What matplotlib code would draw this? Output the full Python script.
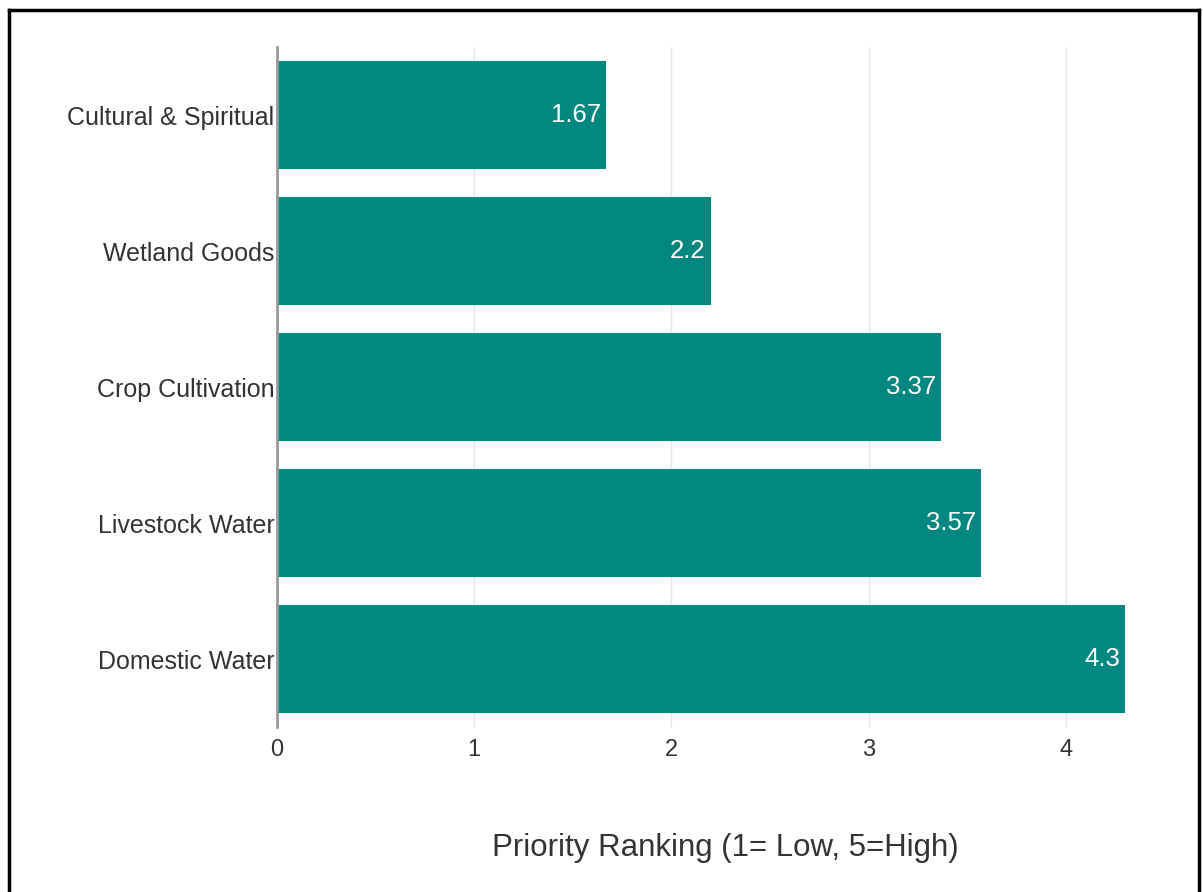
import matplotlib.pyplot as plt
from matplotlib.lines import Line2D

# priority scores per wetland use
categories = ["Cultural & Spiritual", "Wetland Goods", "Crop Cultivation",
              "Livestock Water", "Domestic Water"]
scores = [1.67, 2.2, 3.37, 3.57, 4.3]
score_labels = ["1.67", "2.2", "3.37", "3.57", "4.3"]
xticks = [0, 1, 2, 3, 4]

plt.rcParams['font.family'] = ['Liberation Sans', 'DejaVu Sans']

fig = plt.figure(figsize=(12.03, 8.92), dpi=100)
ax = fig.add_axes([0.2303, 0.185, 0.7047, 0.762])

teal = '#00877F'
ypos = list(range(len(categories)))
ax.barh(ypos, scores, height=0.794, color=teal, zorder=3)

for y, v, lab in zip(ypos, scores, score_labels):
    ax.text(v - 0.025, y, lab, color='white', fontsize=18.5,
            ha='right', va='center', zorder=4)

ax.set_ylim(len(categories) - 0.5, -0.5)
ax.set_xlim(0, 4.3)
ax.set_yticks(ypos)
ax.set_yticklabels(categories, fontsize=18, color='#333333')
ax.set_xticks(xticks)
ax.set_xticklabels([str(t) for t in xticks], fontsize=17, color='#333333')
ax.tick_params(axis='y', length=0, pad=2)
ax.tick_params(axis='x', length=0, pad=9)

ax.grid(axis='x', color='#e6e6e6', linewidth=1, zorder=0)
for s in ['top', 'right', 'bottom']:
    ax.spines[s].set_visible(False)
ax.spines['left'].set_color('#999999')
ax.spines['left'].set_linewidth(2)
ax.spines['left'].set_zorder(5)

fig.text(0.603, 0.049, "Priority Ranking (1= Low, 5=High)", fontsize=22.5,
         color='#333333', ha='center', va='center')

# outer frame (open at bottom)
frame_kw = dict(color='black', linewidth=2.5, transform=fig.transFigure)
fig.add_artist(Line2D([0.0075, 0.0075], [0.0, 0.989], **frame_kw))
fig.add_artist(Line2D([0.0075, 0.9967], [0.989, 0.989], **frame_kw))
fig.add_artist(Line2D([0.9967, 0.9967], [0.0, 0.989], **frame_kw))

fig.savefig('out.png', dpi=100)
